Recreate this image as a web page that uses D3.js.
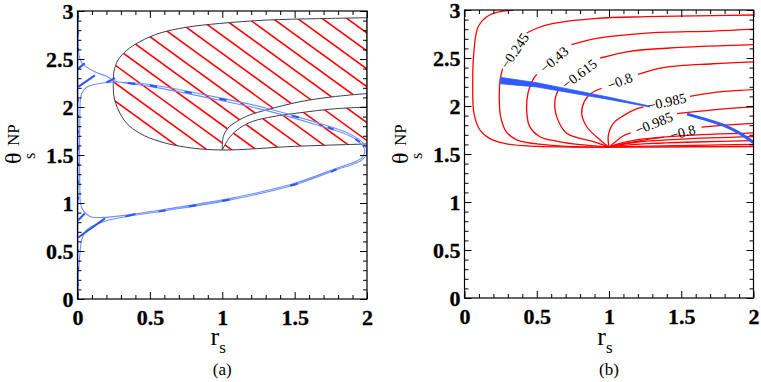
<!DOCTYPE html>
<html><head><meta charset="utf-8">
<script src="https://cdn.jsdelivr.net/npm/d3@7"></script>
<style>body{margin:0;background:#fff}svg{display:block}</style>
</head><body><svg id="c" width="761" height="382"></svg>
<script>
// ---------- data ----------
const xTickValues=[0,0.5,1,1.5,2];
const xTickLabels=["0","0.5","1","1.5","2"];
const yTickValues=[0,0.5,1,1.5,2,2.5,3];
const yTickLabels=["0","0.5","1","1.5","2","2.5","3"];
const captions=["(a)","(b)"];

// panel (a): hatched region
const outerTop=[[0.247,2.25],[0.252,2.37],[0.28,2.49],[0.34,2.59],[0.43,2.68],[0.57,2.77],[0.75,2.83],[0.98,2.87],[1.31,2.906],[1.65,2.92],[2.0,2.93]];
const outerBottom=[[0.247,2.25],[0.252,2.107],[0.282,1.97],[0.34,1.83],[0.43,1.726],[0.57,1.64],[0.754,1.58],[1.0,1.552],[1.5,1.59],[2.0,1.615]];
const hornUpper=[[1.0,1.552],[1.007,1.69],[1.04,1.78],[1.1,1.85],[1.19,1.917],[1.307,1.97],[1.537,2.055],[1.767,2.107],[2.0,2.14]];
const hornLower=[[1.0,1.552],[1.054,1.69],[1.12,1.78],[1.21,1.85],[1.35,1.9],[1.537,1.94],[1.767,1.98],[2.0,2.0]];
const hatchAnchor=[2.0,2.77];

// panel (a): blue trace
const blueTrace=[[0.006,3.0],[0.006,2.62],[0.01,2.54],[0.02,2.49],[0.035,2.45],[0.063,2.415],[0.13,2.36],[0.2,2.32],[0.26,2.27],[0.35,2.245],[0.5,2.215],
 [1.0,2.065],[1.3,1.965],[1.65,1.815],[1.88,1.70],[1.96,1.615],[1.985,1.54],[1.96,1.465],
 [1.767,1.35],[1.49,1.2],[1.03,1.04],[0.616,0.937],[0.34,0.875],[0.178,0.85],[0.086,0.86],[0.04,0.92],[0.02,1.0],[0.017,1.1],[0.017,1.95],
 [0.02,2.08],[0.029,2.14],[0.063,2.205],[0.133,2.24],[0.2,2.255],[0.26,2.26],[0.35,2.255],[0.5,2.235],
 [1.0,2.09],[1.3,1.99],[1.65,1.84],[1.88,1.72],[1.97,1.63],[2.0,1.54],[1.97,1.455],
 [1.767,1.335],[1.49,1.185],[1.03,1.025],[0.616,0.922],[0.34,0.86],[0.2,0.816],[0.133,0.78],[0.063,0.72],[0.029,0.615],[0.017,0.476],[0.008,0.3],[0.006,0.0]];
const blueAxisLine=[[0.004,0],[0.004,3]];
const blueAxisDots=[0.15,0.32,0.5,1.05,1.22,1.4,1.57,1.74,1.9,2.07,2.6,2.77,2.93];
const blueMarks=[
 [[0.005,2.21],[0.12,2.33]],[[0.005,2.40],[0.05,2.455]],[[0.2,2.255],[0.26,2.30]],
 [[0.005,0.64],[0.19,0.84]],[[0.005,0.82],[0.05,0.89]],[[0.33,0.86],[0.4,0.885]],
 [[0.35,2.25],[0.40,2.24]],[[0.5,2.225],[0.55,2.21]],[[0.74,2.16],[0.79,2.145]],[[0.98,2.085],[1.03,2.07]],
 [[1.48,1.91],[1.53,1.89]],[[1.73,1.79],[1.77,1.765]],[[1.92,1.665],[1.95,1.635]],
 [[0.56,0.91],[0.61,0.925]],[[0.77,0.965],[0.82,0.98]],[[1.0,1.02],[1.05,1.035]],
 [[1.47,1.18],[1.52,1.2]],[[1.75,1.325],[1.79,1.35]],[[2.0,1.56],[2.0,1.51]]];

// panel (b): contours (part before label, part after label)
const contourLabels=["\u22120.245","\u22120.43","\u22120.615","\u22120.8","\u22120.985","\u22120.985","\u22120.8"];
const contourOuter=[[0.34,3.0],[0.177,2.95],[0.096,2.83],[0.066,2.58],[0.057,2.24],[0.066,1.92],[0.107,1.75],[0.176,1.66],[0.3,1.603],[0.5,1.58],[0.75,1.573],[1.0,1.5708]];
const contourFirst=[
 [[1.0,1.5708],[0.753,1.577],[0.55,1.597],[0.361,1.648],[0.29,1.73],[0.25,1.89],[0.241,2.06],[0.246,2.27],[0.264,2.39]],
 [[1.0,1.5708],[0.822,1.594],[0.65,1.63],[0.522,1.68],[0.45,1.79],[0.43,1.96],[0.44,2.14],[0.476,2.28],[0.5,2.33]],
 [[1.0,1.5708],[0.891,1.628],[0.707,1.716],[0.638,1.889],[0.626,2.06],[0.65,2.17]],
 [[1.0,1.5708],[0.938,1.646],[0.846,1.784],[0.811,1.924],[0.83,2.05],[0.88,2.135],[0.95,2.185]],
 [[1.0,1.5708],[0.995,1.69],[1.03,1.82],[1.1,1.9],[1.19,1.97],[1.24,1.99]],
 [[1.0,1.5708],[1.03,1.61],[1.1,1.69],[1.15,1.72]],
 [[1.0,1.5708],[1.08,1.6],[1.26,1.65],[1.38,1.675]]];
const contourSecond=[
 [[0.43,2.76],[0.5,2.81],[0.615,2.86],[0.915,2.913],[1.26,2.93],[1.72,2.942],[2.0,2.948]],
 [[0.74,2.64],[0.915,2.705],[1.26,2.76],[1.72,2.78],[2.0,2.80]],
 [[0.94,2.5],[1.145,2.57],[1.49,2.61],[2.0,2.64]],
 [[1.2,2.33],[1.376,2.4],[1.72,2.44],[2.0,2.46]],
 [[1.56,2.1],[1.72,2.14],[2.0,2.17]],
 [[1.47,1.92],[1.72,1.96],[2.0,1.99]],
 [[1.64,1.78],[1.8,1.80],[2.0,1.82]]];
const contourFan=[
 [[1.0,1.5708],[1.05,1.6],[1.2,1.65],[1.5,1.69],[2.0,1.72]],
 [[1.0,1.5708],[1.05,1.59],[1.2,1.625],[1.5,1.655],[2.0,1.68]],
 [[1.0,1.5708],[1.1,1.59],[1.3,1.61],[1.6,1.625],[2.0,1.64]],
 [[1.0,1.5708],[1.2,1.58],[1.6,1.59],[2.0,1.6]],
 [[1.0,1.5708],[1.3,1.573],[2.0,1.578]]];
// panel (b): blue band
const bandTop=[[0.25,2.298],[0.5,2.243],[1.0,2.092],[1.28,2.0]];
const bandBottom=[[0.25,2.232],[0.5,2.198],[1.0,2.068],[1.28,1.99]];
const bandTail=[[1.54,1.915],[1.79,1.80],[1.9,1.72],[2.0,1.62]];

// ---------- drawing ----------
const svg=d3.select("#c");
svg.append("rect").attr("width",761).attr("height",382).attr("fill","#fff");
const defs=svg.append("defs");
const FONT="'Liberation Serif','Times New Roman',Times,serif";

function makePanel(left,right,bottom,top){
  return {x:d3.scaleLinear().domain([0,2]).range([left,right]),
          y:d3.scaleLinear().domain([0,3]).range([bottom,top])};
}
const pa=makePanel(77.5,367,299,11);
const pb=makePanel(464.5,753.5,298,10);

function drawAxes(p,caption){
  const {x,y}=p;
  const [l,r]=x.range(),[b,t]=y.range();
  const g=svg.append("g");
  const minorX=d3.range(1,20).map(i=>i/10).filter(v=>Math.round(v*10)%5!==0);
  const minorY=d3.range(1,30).map(i=>i/10).filter(v=>Math.round(v*10)%5!==0);
  const style=s=>{s.attr("font-family",null).attr("font-size",null);s.select(".domain").remove();s.selectAll("line").attr("stroke","#000").attr("stroke-width",1);
    s.selectAll("text").attr("font-family",FONT).attr("font-weight","bold").attr("font-size",22).attr("fill","#000").attr("stroke","#000").attr("stroke-width",0.3);};
  g.append("g").attr("transform",`translate(0,${b})`).call(d3.axisBottom(x).tickValues(xTickValues).tickFormat((d,i)=>xTickLabels[i]).tickSizeInner(-7).tickSizeOuter(0).tickPadding(10)).call(style);
  g.append("g").attr("transform",`translate(0,${b})`).call(d3.axisBottom(x).tickValues(minorX).tickFormat("").tickSizeInner(-4).tickSizeOuter(0)).call(style);
  g.append("g").attr("transform",`translate(0,${t})`).call(d3.axisTop(x).tickValues(xTickValues).tickFormat("").tickSizeInner(-7).tickSizeOuter(0)).call(style);
  g.append("g").attr("transform",`translate(0,${t})`).call(d3.axisTop(x).tickValues(minorX).tickFormat("").tickSizeInner(-4).tickSizeOuter(0)).call(style);
  g.append("g").attr("transform",`translate(${l},0)`).call(d3.axisLeft(y).tickValues(yTickValues).tickFormat((d,i)=>yTickLabels[i]).tickSizeInner(-7).tickSizeOuter(0).tickPadding(4)).call(style);
  g.append("g").attr("transform",`translate(${l},0)`).call(d3.axisLeft(y).tickValues(minorY).tickFormat("").tickSizeInner(-4).tickSizeOuter(0)).call(style);
  g.append("g").attr("transform",`translate(${r},0)`).call(d3.axisRight(y).tickValues(yTickValues).tickFormat("").tickSizeInner(-7).tickSizeOuter(0)).call(style);
  g.append("g").attr("transform",`translate(${r},0)`).call(d3.axisRight(y).tickValues(minorY).tickFormat("").tickSizeInner(-4).tickSizeOuter(0)).call(style);
  g.append("rect").attr("x",l).attr("y",t).attr("width",r-l).attr("height",b-t).attr("fill","none").attr("stroke","#000").attr("stroke-width",1.2);
  const cx=(l+r)/2;
  // x title
  const xt=g.append("text").attr("x",cx-4).attr("y",345).attr("font-family",FONT).attr("font-size",26).attr("text-anchor","middle");
  xt.append("tspan").text("r");
  xt.append("tspan").attr("font-size",17).attr("dy",8).text("s");
  // caption
  g.append("text").attr("x",cx).attr("y",375).attr("text-anchor","middle").attr("font-family",FONT).attr("font-size",17).text(caption);
  // y title
  const ox=l-77.5;
  g.append("text").attr("transform",`translate(${ox+21},164) rotate(-90)`).attr("font-family",FONT).attr("font-size",24).text("\u03b8");
  g.append("text").attr("transform",`translate(${ox+34.5},159) rotate(-90)`).attr("font-family",FONT).attr("font-size",16).text("s");
  g.append("text").attr("transform",`translate(${ox+19},146) rotate(-90)`).attr("font-family",FONT).attr("font-size",17).text("NP");
  return g;
}

// ----- panel a -----
{
  const {x,y}=pa;
  defs.append("clipPath").attr("id","plotA").append("rect").attr("x",x(0)).attr("y",y(3)).attr("width",x(2)-x(0)).attr("height",y(0)-y(3));
  const g=svg.append("g").attr("clip-path","url(#plotA)");
  const cr=d3.line().x(d=>x(d[0])).y(d=>y(d[1])).curve(d3.curveCatmullRom.alpha(0.5));
  const cont=pts=>cr(pts).replace(/^M/,"L");
  const outerD=cr(outerTop.slice().reverse())+cont(outerBottom)+"Z";
  const hornD=cr(hornUpper)+cont(hornLower.slice().reverse())+"Z";
  defs.append("clipPath").attr("id","hatchClip").append("path").attr("d",outerD+hornD).attr("clip-rule","evenodd");
  // hatch lines
  const ang=36*Math.PI/180, gap=14.5;
  const ax=x(hatchAnchor[0]), ay=y(hatchAnchor[1]);
  const u=[Math.cos(ang),Math.sin(ang)], n=[-Math.sin(ang),Math.cos(ang)];
  const hatch=d3.range(-40,41).map(k=>{const o=k*gap;const px=ax+n[0]*o,py=ay+n[1]*o;
    return [[px-u[0]*600,py-u[1]*600],[px+u[0]*600,py+u[1]*600]];});
  g.append("g").attr("clip-path","url(#hatchClip)").selectAll("line").data(hatch).join("line")
   .attr("x1",d=>d[0][0]).attr("y1",d=>d[0][1]).attr("x2",d=>d[1][0]).attr("y2",d=>d[1][1])
   .attr("stroke","#ff0000").attr("stroke-width",1.6);
  g.append("path").attr("d",outerD).attr("fill","none").attr("stroke","#3b3b4f").attr("stroke-width",1);
  g.append("path").attr("d",hornD).attr("fill","none").attr("stroke","#3b3b4f").attr("stroke-width",1);
  // blue
  const lin=d3.line().x(d=>x(d[0])).y(d=>y(d[1]));
  g.append("path").attr("d",lin(blueAxisLine)).attr("fill","none").attr("stroke","#7f9cff").attr("stroke-width",1);
  g.append("path").attr("d",cr(blueTrace)).attr("fill","none").attr("stroke","#6e8fff").attr("stroke-width",1.1);
  g.selectAll(".dot").data(blueAxisDots).join("line").attr("x1",x(0.004)).attr("x2",x(0.004))
   .attr("y1",d=>y(d)-1.5).attr("y2",d=>y(d)+1.5).attr("stroke","#2a55f0").attr("stroke-width",2);
  g.selectAll(".mk").data(blueMarks).join("path").attr("d",d=>lin(d)).attr("stroke","#2a55f0").attr("stroke-width",2).attr("fill","none");
}
drawAxes(pa,captions[0]);

// ----- panel b -----
{
  const {x,y}=pb;
  defs.append("clipPath").attr("id","plotB").append("rect").attr("x",x(0)).attr("y",y(3)).attr("width",x(2)-x(0)).attr("height",y(0)-y(3));
  const g=svg.append("g").attr("clip-path","url(#plotB)");
  const cr=d3.line().x(d=>x(d[0])).y(d=>y(d[1])).curve(d3.curveCatmullRom.alpha(0.5));
  const all=[contourOuter].concat(contourFirst,contourSecond,contourFan);
  g.selectAll(".ct").data(all).join("path").attr("d",d=>cr(d)).attr("fill","none").attr("stroke","#ff0000").attr("stroke-width",1.3);
  // blue band
  const area=bandTop.concat(bandBottom.slice().reverse());
  g.append("path").attr("d",d3.line().x(d=>x(d[0])).y(d=>y(d[1])).curve(d3.curveLinearClosed)(area)).attr("fill","#2f5cff").attr("stroke","#2f5cff").attr("stroke-width",0.8);
  g.append("path").attr("d",cr(bandTail)).attr("fill","none").attr("stroke","#2f5cff").attr("stroke-width",3);
  // labels
  contourLabels.forEach((lab,i)=>{
    const a=contourFirst[i][contourFirst[i].length-1], b=contourSecond[i][0];
    const px=(x(a[0])+x(b[0]))/2, py=(y(a[1])+y(b[1]))/2;
    const angle=Math.atan2(y(b[1])-y(a[1]),x(b[0])-x(a[0]))*180/Math.PI;
    svg.append("text").attr("transform",`translate(${px},${py}) rotate(${angle})`).attr("text-anchor","middle").attr("dy","0.35em")
      .attr("font-family",FONT).attr("font-size",14).text(lab);
  });
}
drawAxes(pb,captions[1]);
</script></body></html>
